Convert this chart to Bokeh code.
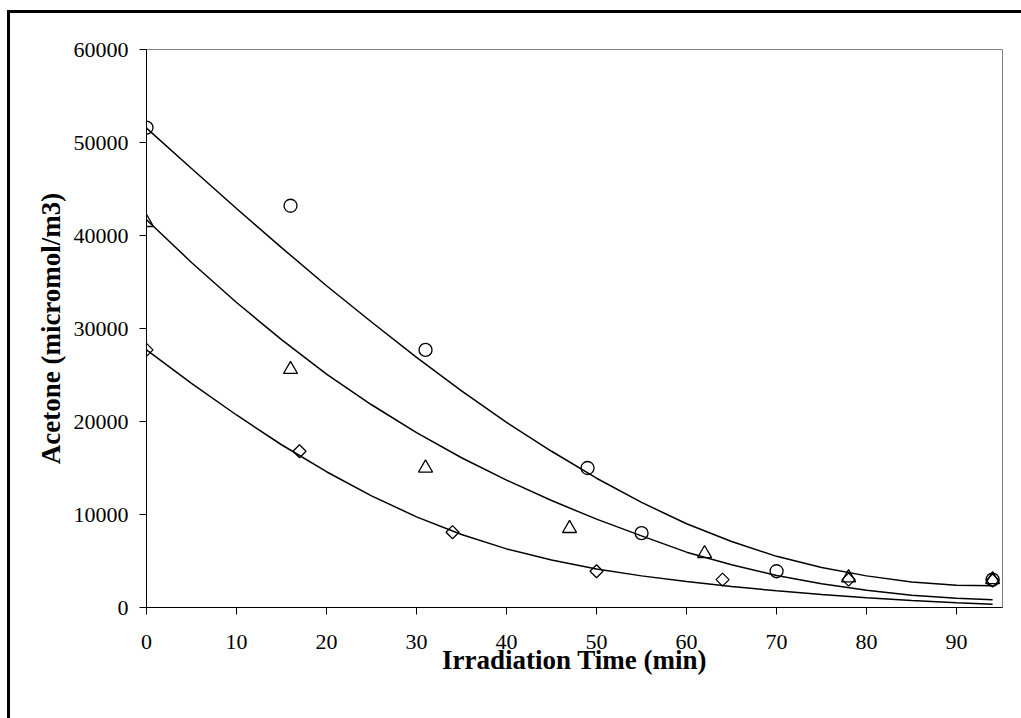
import numpy as np
from bokeh.plotting import figure
from bokeh.layouts import column
from bokeh.models import Range1d, FixedTicker, GlobalInlineStyleSheet
from bokeh.embed import file_html
from bokeh.resources import INLINE

circle_x = [0, 16, 31, 49, 55, 70, 94]
circle_y = [51600, 43200, 27700, 15000, 8000, 3900, 3000]
triangle_x = [0, 16, 31, 47, 62, 78, 94]
triangle_y = [41400, 25600, 15000, 8500, 5800, 3200, 3000]
diamond_x = [0, 17, 34, 50, 64, 78, 94]
diamond_y = [27700, 16800, 8100, 3900, 3000, 3000, 2900]

# Fitted curves
fit_x = [0, 5, 10, 15, 20, 25, 30, 35, 40, 45, 50, 55, 60, 65, 70, 75, 80, 85, 90, 94]
circle_fit = [51550, 47200, 42900, 38700, 34600, 30700, 26900, 23300, 19900, 16800,
              13900, 11300, 9000, 7100, 5500, 4300, 3400, 2750, 2400, 2330]
triangle_fit = [41700, 37100, 32800, 28800, 25100, 21800, 18800, 16100, 13700, 11500,
                9500, 7700, 5950, 4600, 3450, 2550, 1850, 1320, 1000, 830]
diamond_fit = [27700, 24100, 20700, 17500, 14600, 12000, 9750, 7850, 6300, 5100,
               4150, 3400, 2800, 2250, 1800, 1400, 1050, 750, 500, 360]

x_ticks = [0, 10, 20, 30, 40, 50, 60, 70, 80, 90]
y_ticks = [0, 10000, 20000, 30000, 40000, 50000, 60000]

p = figure(width=1020, height=715, output_backend="svg", toolbar_location=None,
           x_range=Range1d(0, 95.1), y_range=Range1d(0, 60000),
           min_border_left=136, min_border_right=28, min_border_top=36, min_border_bottom=121)

p.xgrid.visible = False
p.ygrid.visible = False
p.outline_line_color = "#808080"
p.outline_line_width = 1
p.background_fill_color = "white"
p.border_fill_color = "white"

for ax in (p.xaxis[0], p.yaxis[0]):
    ax.axis_line_color = "black"
    ax.axis_line_width = 1
    ax.major_tick_line_color = "black"
    ax.major_tick_out = 7
    ax.major_tick_in = 0
    ax.minor_tick_line_color = None
    ax.major_label_text_font = "Liberation Serif"
    ax.major_label_text_font_size = "22px"
    ax.major_label_text_color = "black"
    ax.axis_label_text_font = "Liberation Serif"
    ax.axis_label_text_font_style = "bold"
    ax.axis_label_text_font_size = "27px"
    ax.axis_label_text_color = "black"

p.xaxis.ticker = FixedTicker(ticks=x_ticks)
p.yaxis.ticker = FixedTicker(ticks=y_ticks)
p.xaxis.axis_label = "Irradiation Time (min)"
p.yaxis.axis_label = "Acetone (micromol/m3)"
p.xaxis.major_label_standoff = 20
p.yaxis.major_label_standoff = 11
p.xaxis.axis_label_standoff = -7
p.yaxis.axis_label_standoff = 5

for fy in (circle_fit, triangle_fit, diamond_fit):
    p.line(fit_x, fy, line_color="black", line_width=1.5)

p.scatter(circle_x, circle_y, marker="circle", size=13, fill_color=None,
          line_color="black", line_width=1.3)
p.scatter(triangle_x, triangle_y, marker="triangle", size=14, fill_color=None,
          line_color="black", line_width=1.3)
p.scatter(diamond_x, diamond_y, marker="square", angle=np.pi / 4, size=9.2,
          fill_color=None, line_color="black", line_width=1.3)

# outer chart-area border: only its left and top edges fall inside the window
layout = column(p, styles={"margin-left": "7px", "margin-top": "10px",
                           "border-left": "3px solid black",
                           "border-top": "3px solid black"})
layout.stylesheets = [GlobalInlineStyleSheet(css="html, body { margin: 0; overflow: hidden; }")]

open("out.html", "w").write(file_html(layout, INLINE))
